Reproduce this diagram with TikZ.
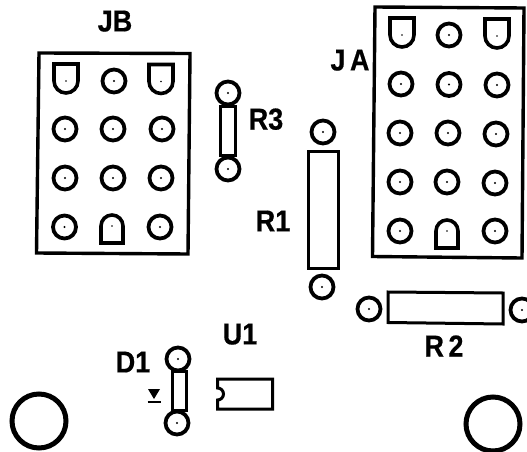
\documentclass[tikz,border=0pt]{standalone}
\usepackage{fontspec}
\setmainfont{Liberation Sans}
\begin{document}
\begin{tikzpicture}[x=1pt,y=-1pt,
  pad/.style={circle,draw=black,line width=3.8pt,minimum size=23pt,inner sep=0pt,
    path picture={\fill (path picture bounding box.center) circle (1.2pt);}},
  body/.style={draw=black,line width=3pt,line join=miter},
  shield/.style={draw=black,line width=3.6pt,line join=miter},
  frame/.style={draw=black,line width=3.4pt,line join=miter},
  hole/.style={circle,draw=black,line width=5pt,minimum size=54pt,inner sep=0pt},
  lab/.style={font=\bfseries\fontsize{27}{27}\selectfont\addfontfeature{FakeBold=0.6},text=black,inner sep=0pt,text depth=0pt,yscale=1.12,transform shape}]
\useasboundingbox (0,0) rectangle (527,452);
\clip (0,0) rectangle (527,452);
% JB
\draw[frame] (39,53) -- (190,53.5) -- (188,254) -- (36.5,253) -- cycle;
\foreach \n/\x/\y in {b12/114/81,b21/65/129,b22/113/129,b23/162/129,b31/65/178,b32/113/178,b33/161/178,b41/64.5/227,b43/160/227}
  \node[pad] (\n) at (\x,\y) {};
% JA
\draw[frame] (375,7) -- (524,8) -- (522,258) -- (372.5,256.5) -- cycle;
\foreach \n/\x/\y in {a12/449/35,a21/401/84,a22/449/84.5,a23/497/85,a31/400/133,a32/448/133,a33/496/134,a41/400/182,a42/447/182,a43/495/183,a51/400/231,a53/495/231}
  \node[pad] (\n) at (\x,\y) {};
% flat-topped pads
\foreach \x/\y in {66/81,161/81.5,402/35,497/36}{
  \draw[shield] (\x-12,\y-17) -- (\x+12,\y-17) -- (\x+12,\y) arc[start angle=0,end angle=180,radius=12] -- cycle;
  \fill (\x,\y) circle (0.8pt);
}
% flat-bottomed pads
\foreach \x/\y in {112/226,447/231}{
  \draw[shield] (\x-11,\y+17) -- (\x+11,\y+17) -- (\x+11,\y) arc[start angle=0,end angle=-180,radius=11] -- cycle;
  \fill (\x,\y) circle (0.8pt);
}
% R3
\node[pad] (r3a) at (228,93) {};
\node[pad] (r3b) at (228,169) {};
\draw[body] (220.5,106) rectangle (235.5,155);
% R1
\node[pad] (r1a) at (323,132) {};
\node[pad] (r1b) at (322,287) {};
\draw[body] (308,151) rectangle (338.5,268);
% R2
\node[pad] (r2a) at (369,309) {};
\node[pad] (r2b) at (522,310) {};
\draw[body] (388,292) -- (503,293) -- (503,324) -- (388,322.5) -- cycle;
% D1
\node[pad] (d1a) at (178,359) {};
\node[pad] (d1b) at (177,423) {};
\draw[body] (172,371) rectangle (186,410);
\fill (148,389) -- (160,389) -- (154,399) -- cycle;
\draw[line width=2.4pt] (147.5,402) -- (160.5,402);
% U1
\draw[body] (217.5,379) -- (272.5,379) -- (272.5,409) -- (217.5,409) -- (217.5,400) arc[start angle=90,end angle=-90,radius=6] -- cycle;
% mounting holes
\node[hole] (h1) at (39,421) {};
\node[hole] (h2) at (493,424) {};
% labels
\node[lab] (jb) at (115,21) {JB};
\node[lab] (ja) at (350,60) {J\,A};
\node[lab] (r3) at (266,119) {R3};
\node[lab] (r1) at (273,221) {R1};
\node[lab] (r2) at (444,346) {R\,2};
\node[lab] (u1) at (240,334) {U1};
\node[lab] (d1) at (133,362) {D1};
\end{tikzpicture}
\end{document}
